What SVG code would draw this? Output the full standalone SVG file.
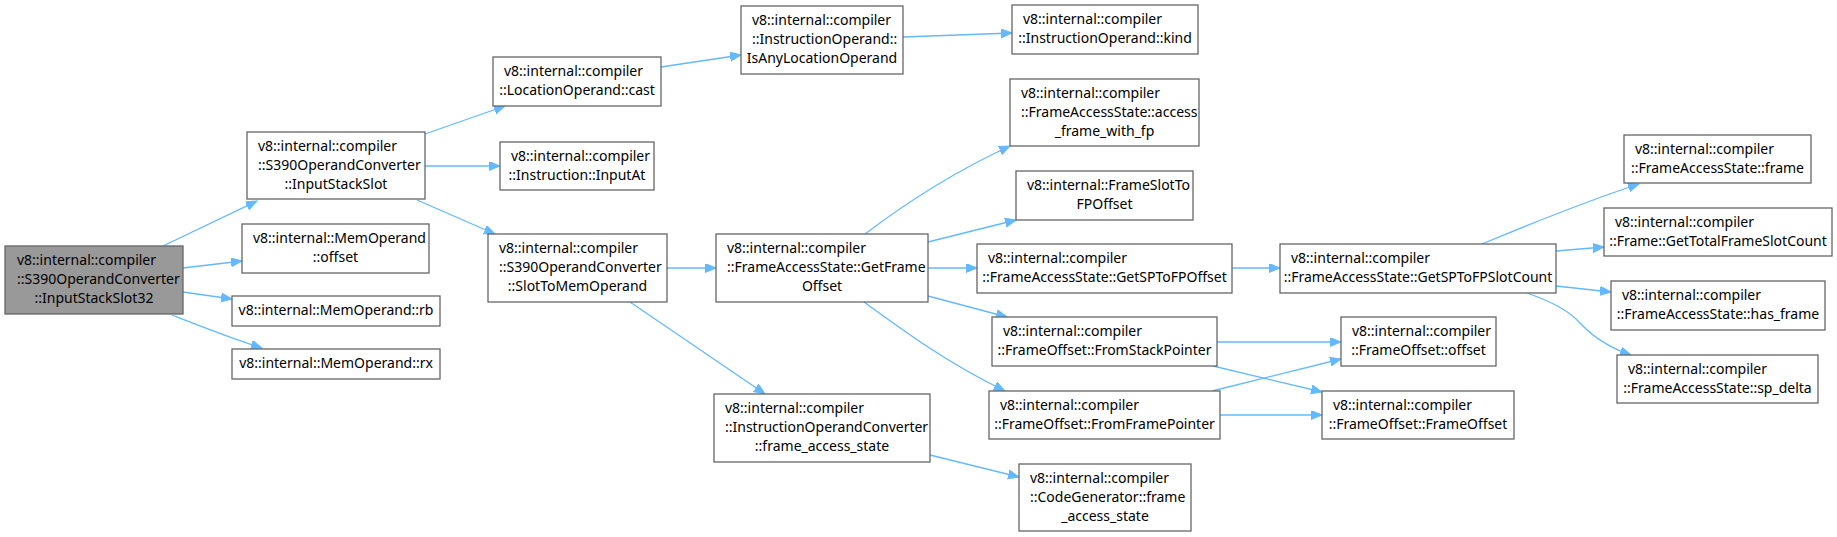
<svg xmlns="http://www.w3.org/2000/svg" width="1837" height="537" viewBox="0 0 1837 537">
<style>
.n rect{fill:#fff;stroke:#666;stroke-width:1.3}
.n.m rect{fill:#999}
text{font-family:"Noto Sans","DejaVu Sans",sans-serif;font-size:14px;fill:#000}
.c{text-anchor:middle}
#edges path{fill:none;stroke:#63b8ff;stroke-width:1.3}
</style>
<defs>
<marker id="a" markerUnits="userSpaceOnUse" markerWidth="12" markerHeight="10" refX="11" refY="4.5" orient="auto">
<path d="M0,0 L11,4.5 L0,9 z" fill="#63b8ff" stroke="#63b8ff" stroke-width="1"/>
</marker>
</defs>
<rect width="1837" height="537" fill="#fff"/>
<g id="edges">
<path d="M163,246 L257,201" marker-end="url(#a)"/>
<path d="M183,268 L242,261" marker-end="url(#a)"/>
<path d="M183,292 L232,299" marker-end="url(#a)"/>
<path d="M172,315 C200,326 230,338 262,348" marker-end="url(#a)"/>
<path d="M425,134 L505,106" marker-end="url(#a)"/>
<path d="M425,166 L500,166" marker-end="url(#a)"/>
<path d="M417,200 L495,234" marker-end="url(#a)"/>
<path d="M661,67 L741,55" marker-end="url(#a)"/>
<path d="M903,37 L1012,33" marker-end="url(#a)"/>
<path d="M667,268 L716,268" marker-end="url(#a)"/>
<path d="M630,302 L765,394" marker-end="url(#a)"/>
<path d="M865,234 C898,209 945,176 1010,146" marker-end="url(#a)"/>
<path d="M928,242 L1016,220" marker-end="url(#a)"/>
<path d="M928,268 L977,268" marker-end="url(#a)"/>
<path d="M928,296 L1007,317" marker-end="url(#a)"/>
<path d="M864,302 C900,328 945,362 1005,391" marker-end="url(#a)"/>
<path d="M1232,268 L1280,268" marker-end="url(#a)"/>
<path d="M1482,244 C1530,224 1590,200 1639,184" marker-end="url(#a)"/>
<path d="M1556,251 L1604,247" marker-end="url(#a)"/>
<path d="M1556,286 L1611,292" marker-end="url(#a)"/>
<path d="M1527,293 C1552,302 1568,310 1580,323 C1594,338 1610,348 1631,355" marker-end="url(#a)"/>
<path d="M1217,342 L1341,342" marker-end="url(#a)"/>
<path d="M1213,366 L1322,392" marker-end="url(#a)"/>
<path d="M1212,391 L1341,359" marker-end="url(#a)"/>
<path d="M1220,415 L1322,415" marker-end="url(#a)"/>
<path d="M930,455 L1019,477" marker-end="url(#a)"/>
</g>
<g id="n0" class="n m"><rect x="5" y="246" width="178" height="68"/><text x="17" y="265">v8::internal::compiler</text><text x="17" y="284">::S390OperandConverter</text><text x="94" y="303" class="c">::InputStackSlot32</text></g>
<g id="n1" class="n"><rect x="247" y="132" width="178" height="67"/><text x="258" y="151">v8::internal::compiler</text><text x="258" y="170">::S390OperandConverter</text><text x="336" y="189" class="c">::InputStackSlot</text></g>
<g id="n2" class="n"><rect x="242" y="224" width="187" height="49"/><text x="253" y="243">v8::internal::MemOperand</text><text x="335.5" y="262" class="c">::offset</text></g>
<g id="n3" class="n"><rect x="232" y="296" width="208" height="30"/><text x="336" y="315" class="c">v8::internal::MemOperand::rb</text></g>
<g id="n4" class="n"><rect x="232" y="349" width="208" height="30"/><text x="336" y="368" class="c">v8::internal::MemOperand::rx</text></g>
<g id="n5" class="n"><rect x="493" y="57" width="168" height="49"/><text x="504" y="76">v8::internal::compiler</text><text x="577" y="95" class="c">::LocationOperand::cast</text></g>
<g id="n6" class="n"><rect x="500" y="142" width="154" height="48"/><text x="511" y="161">v8::internal::compiler</text><text x="577" y="180" class="c">::Instruction::InputAt</text></g>
<g id="n7" class="n"><rect x="488" y="234" width="179" height="68"/><text x="499" y="253">v8::internal::compiler</text><text x="499" y="272">::S390OperandConverter</text><text x="577.5" y="291" class="c">::SlotToMemOperand</text></g>
<g id="n8" class="n"><rect x="741" y="6" width="162" height="68"/><text x="752" y="25">v8::internal::compiler</text><text x="752" y="44">::InstructionOperand::</text><text x="822" y="63" class="c">IsAnyLocationOperand</text></g>
<g id="n9" class="n"><rect x="1012" y="5" width="186" height="49"/><text x="1023" y="24">v8::internal::compiler</text><text x="1105" y="43" class="c">::InstructionOperand::kind</text></g>
<g id="n10" class="n"><rect x="716" y="234" width="212" height="68"/><text x="727" y="253">v8::internal::compiler</text><text x="727" y="272">::FrameAccessState::GetFrame</text><text x="822" y="291" class="c">Offset</text></g>
<g id="n11" class="n"><rect x="714" y="394" width="216" height="68"/><text x="725" y="413">v8::internal::compiler</text><text x="725" y="432">::InstructionOperandConverter</text><text x="822" y="451" class="c">::frame_access_state</text></g>
<g id="n12" class="n"><rect x="1010" y="79" width="189" height="67"/><text x="1021" y="98">v8::internal::compiler</text><text x="1021" y="117">::FrameAccessState::access</text><text x="1104.5" y="136" class="c">_frame_with_fp</text></g>
<g id="n13" class="n"><rect x="1016" y="171" width="177" height="49"/><text x="1027" y="190">v8::internal::FrameSlotTo</text><text x="1104.5" y="209" class="c">FPOffset</text></g>
<g id="n14" class="n"><rect x="977" y="244" width="255" height="49"/><text x="988" y="263">v8::internal::compiler</text><text x="1104.5" y="282" class="c">::FrameAccessState::GetSPToFPOffset</text></g>
<g id="n15" class="n"><rect x="992" y="317" width="225" height="49"/><text x="1003" y="336">v8::internal::compiler</text><text x="1104.5" y="355" class="c">::FrameOffset::FromStackPointer</text></g>
<g id="n16" class="n"><rect x="989" y="391" width="231" height="48"/><text x="1000" y="410">v8::internal::compiler</text><text x="1104.5" y="429" class="c">::FrameOffset::FromFramePointer</text></g>
<g id="n17" class="n"><rect x="1019" y="464" width="172" height="67"/><text x="1030" y="483">v8::internal::compiler</text><text x="1030" y="502">::CodeGenerator::frame</text><text x="1105" y="521" class="c">_access_state</text></g>
<g id="n18" class="n"><rect x="1280" y="244" width="276" height="49"/><text x="1291" y="263">v8::internal::compiler</text><text x="1418" y="282" class="c">::FrameAccessState::GetSPToFPSlotCount</text></g>
<g id="n19" class="n"><rect x="1341" y="317" width="155" height="49"/><text x="1352" y="336">v8::internal::compiler</text><text x="1418.5" y="355" class="c">::FrameOffset::offset</text></g>
<g id="n20" class="n"><rect x="1322" y="391" width="192" height="48"/><text x="1333" y="410">v8::internal::compiler</text><text x="1418" y="429" class="c">::FrameOffset::FrameOffset</text></g>
<g id="n21" class="n"><rect x="1624" y="135" width="187" height="48"/><text x="1635" y="154">v8::internal::compiler</text><text x="1717.5" y="173" class="c">::FrameAccessState::frame</text></g>
<g id="n22" class="n"><rect x="1604" y="208" width="228" height="48"/><text x="1615" y="227">v8::internal::compiler</text><text x="1718" y="246" class="c">::Frame::GetTotalFrameSlotCount</text></g>
<g id="n23" class="n"><rect x="1611" y="281" width="214" height="49"/><text x="1622" y="300">v8::internal::compiler</text><text x="1718" y="319" class="c">::FrameAccessState::has_frame</text></g>
<g id="n24" class="n"><rect x="1617" y="355" width="201" height="48"/><text x="1628" y="374">v8::internal::compiler</text><text x="1717.5" y="393" class="c">::FrameAccessState::sp_delta</text></g>
</svg>
